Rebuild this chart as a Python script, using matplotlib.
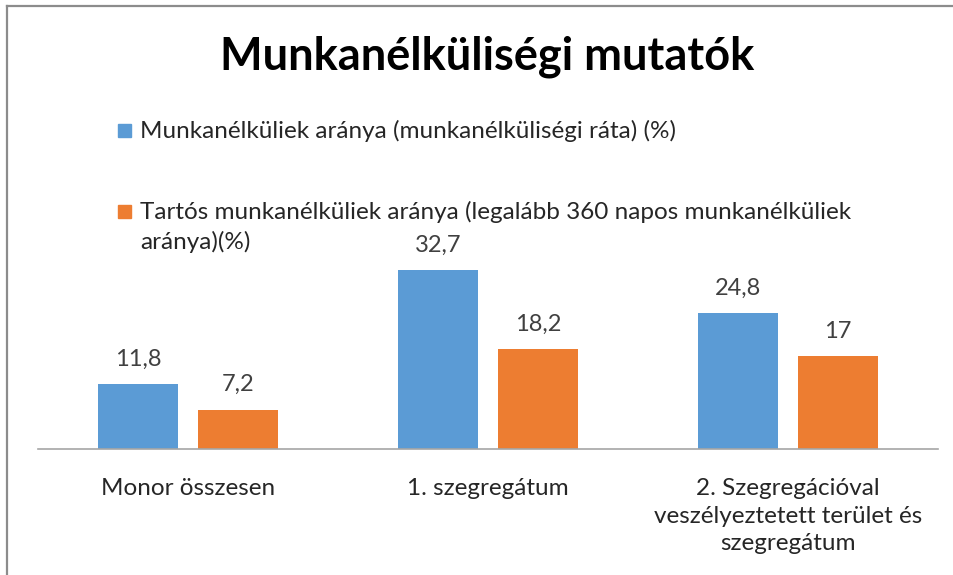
import numpy as np
import matplotlib.pyplot as plt
from matplotlib.lines import Line2D
from matplotlib.patches import Rectangle

plt.rcParams['font.family'] = ['Lato', 'DejaVu Sans']

# Chart data
categories = ['Monor összesen', '1. szegregátum',
              '2. Szegregációval\nveszélyeztetett terület és\nszegregátum']
series_names = [['Munkanélküliek aránya (munkanélküliségi ráta) (%)'],
                ['Tartós munkanélküliek aránya (legalább 360 napos munkanélküliek',
                 'aránya)(%)']]
rate = [11.8, 32.7, 24.8]
long_term = [7.2, 18.2, 17]
value_labels = [['11,8', '32,7', '24,8'], ['7,2', '18,2', '17']]
colors = ['#5B9BD5', '#ED7D31']

fig = plt.figure(figsize=(9.54, 5.75), dpi=100)
W, H = 954, 575

# outer chart border (only top and left visible, cropped screenshot)
fig.lines.append(Line2D([7.5 / W, 1], [1 - 5.5 / H, 1 - 5.5 / H], transform=fig.transFigure,
                        color='#8C8C8C', linewidth=1.6))
fig.lines.append(Line2D([7.5 / W, 7.5 / W], [0, 1 - 5.5 / H], transform=fig.transFigure,
                        color='#8C8C8C', linewidth=1.6))

# plot area: baseline at y=449px, top at y=175px
ax = fig.add_axes([38 / W, 1 - 449 / H, 900 / W, 274 / H])
x = np.arange(len(categories))
width = 0.267
offset = 0.167
for i, vals in enumerate([rate, long_term]):
    pos = x - offset if i == 0 else x + offset
    bars = ax.bar(pos, vals, width, color=colors[i])
    for b, lab in zip(bars, value_labels[i]):
        ax.text(b.get_x() + b.get_width() / 2, b.get_height() + 2.6, lab,
                ha='center', va='bottom', fontsize=17, color='#404040')

ax.set_xlim(-0.5, 2.5)
ax.set_ylim(0, 50)
ax.set_yticks([])
ax.set_xticks(x)
ax.set_xticklabels(categories, fontsize=17.5, color='#262626', linespacing=1.38)
ax.tick_params(axis='x', length=0, pad=21)
for s in ['top', 'left', 'right']:
    ax.spines[s].set_visible(False)
ax.spines['bottom'].set_color('#A6A6A6')
ax.spines['bottom'].set_linewidth(1.2)

# title
fig.text(487 / W, 1 - 57 / H, 'Munkanélküliségi mutatók', ha='center', va='center',
         fontsize=32.5, fontweight='bold', color='black')

# manual legend, one text per line
leg_y = [130, 211]
for i, lines in enumerate(series_names):
    y = leg_y[i]
    fig.patches.append(Rectangle((118 / W, 1 - (y + 7) / H), 13 / W, 13 / H,
                                 transform=fig.transFigure, color=colors[i]))
    for k, line in enumerate(lines):
        fig.text(140 / W, 1 - (y + 1 + 30 * k) / H, line, ha='left', va='center',
                 fontsize=17.5, color='#262626')

plt.savefig('out.png', dpi=100)
